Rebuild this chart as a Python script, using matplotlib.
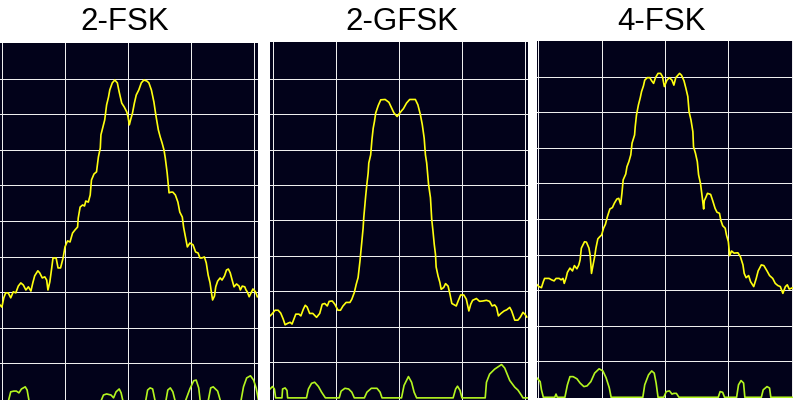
import matplotlib
matplotlib.use("Agg")
import matplotlib.pyplot as plt

# three spectrum analyser captures, x = offset in divisions, y = level in dB (10 dB/div)
titles = ["2-FSK", "2-GFSK", "4-FSK"]

fsk2_f = [-2.03, -2.00, -1.97, -1.94, -1.90, -1.86, -1.82, -1.78, -1.74, -1.70, -1.66, -1.62, -1.58, -1.54,
          -1.51, -1.48, -1.43, -1.40, -1.36, -1.32, -1.29, -1.27, -1.24, -1.21, -1.19, -1.14, -1.11, -1.07,
          -1.03, -1.00, -0.96, -0.92, -0.88, -0.84, -0.80, -0.79, -0.76, -0.72, -0.69, -0.67, -0.63, -0.60,
          -0.58, -0.54, -0.50, -0.47, -0.44, -0.43, -0.39, -0.37, -0.34, -0.31, -0.29, -0.25, -0.21, -0.17,
          -0.14, -0.10, -0.06, -0.02, 0.00, 0.02, 0.04, 0.07, 0.10, 0.13, 0.17, 0.21, 0.25, 0.30, 0.33, 0.37,
          0.41, 0.44, 0.48, 0.51, 0.54, 0.57, 0.59, 0.62, 0.65, 0.68, 0.71, 0.75, 0.79, 0.82, 0.86, 0.88,
          0.91, 0.94, 0.98, 1.03, 1.07, 1.11, 1.14, 1.17, 1.21, 1.24, 1.27, 1.30, 1.32, 1.34, 1.37, 1.39,
          1.42, 1.46, 1.49, 1.53, 1.56, 1.59, 1.62, 1.65, 1.68, 1.72, 1.76, 1.78, 1.81, 1.85, 1.87, 1.89,
          1.92, 1.95, 1.98, 2.02, 2.05]
fsk2_db = [-73.6, -74.2, -71.6, -70.2, -70.2, -71.6, -69.9, -70.2, -68.3, -67.4, -68.0, -69.4, -68.5, -69.7,
           -67.4, -65.4, -64.0, -64.6, -66.0, -65.7, -66.6, -69.4, -67.1, -63.2, -60.4, -60.4, -63.2, -63.2,
           -60.4, -57.3, -55.6, -55.9, -53.4, -52.5, -51.7, -49.2, -46.1, -45.5, -45.8, -44.4, -44.7, -42.7,
           -38.5, -36.8, -36.2, -32.0, -29.5, -25.8, -23.0, -21.6, -17.4, -15.2, -13.2, -11.2, -10.4, -11.2,
           -13.8, -16.9, -18.0, -19.4, -20.8, -23.0, -21.6, -19.7, -16.9, -14.6, -13.2, -11.2, -10.4, -10.7,
           -11.2, -13.2, -16.6, -20.2, -24.4, -26.4, -28.1, -30.1, -32.3, -36.5, -42.1, -41.9, -41.9, -42.7,
           -44.7, -47.5, -48.9, -51.7, -54.5, -57.3, -56.2, -56.7, -58.7, -59.0, -60.4, -60.4, -60.1, -61.8,
           -65.2, -67.4, -69.9, -72.2, -71.1, -68.5, -66.9, -66.0, -66.6, -65.4, -63.8, -63.5, -64.6, -66.6,
           -68.5, -67.7, -68.3, -69.4, -68.3, -68.5, -69.4, -69.9, -71.3, -70.2, -69.1, -69.9, -71.3]
fsk2_ref_f = [-1.91, -1.86, -1.81, -1.77, -1.73, -1.69, -1.63, -1.60, -1.56,
              -0.45, -0.39, -0.34, -0.27, -0.23, -0.19, -0.14, -0.11, -0.07,
              0.27, 0.31, 0.35, 0.39, 0.44,
              0.59, 0.63, 0.67, 0.71, 0.76,
              0.89, 0.98, 1.04, 1.08, 1.12, 1.15,
              1.26, 1.31, 1.35, 1.42, 1.48,
              1.78, 1.83, 1.88, 1.94, 1.99, 2.03, 2.08]
fsk2_ref_db = [-101.5, -98.0, -97.8, -97.8, -98.3, -97.2, -96.6, -97.5, -101.5,
               -101.5, -98.9, -98.6, -98.9, -99.7, -98.0, -97.2, -98.3, -101.5,
               -101.5, -97.5, -96.9, -97.2, -101.5,
               -101.5, -97.5, -96.9, -98.0, -101.5,
               -101.5, -97.2, -94.9, -94.7, -96.9, -101.5,
               -101.5, -96.9, -96.6, -97.8, -101.5,
               -101.5, -96.6, -94.1, -93.5, -94.7, -96.9, -101.5]

gfsk2_f = [-2.05, -2.02, -1.97, -1.92, -1.88, -1.84, -1.81, -1.77, -1.73, -1.70, -1.67, -1.64, -1.59, -1.56,
           -1.52, -1.49, -1.46, -1.42, -1.37, -1.31, -1.26, -1.22, -1.18, -1.14, -1.11, -1.06, -1.02, -0.97,
           -0.93, -0.89, -0.84, -0.78, -0.75, -0.71, -0.68, -0.65, -0.62, -0.60, -0.57, -0.56, -0.53, -0.51,
           -0.49, -0.48, -0.45, -0.43, -0.41, -0.39, -0.37, -0.33, -0.29, -0.22, -0.16, -0.12, -0.08, -0.03,
           0.00, 0.04, 0.07, 0.12, 0.17, 0.26, 0.30, 0.34, 0.37, 0.40, 0.42, 0.44, 0.47, 0.50, 0.52, 0.54,
           0.56, 0.58, 0.59, 0.62, 0.65, 0.67, 0.71, 0.74, 0.78, 0.81, 0.84, 0.91, 0.94, 0.98, 1.03, 1.07,
           1.11, 1.14, 1.17, 1.23, 1.28, 1.33, 1.39, 1.44, 1.48, 1.52, 1.55, 1.58, 1.62, 1.67, 1.71, 1.76,
           1.79, 1.84, 1.89, 1.93, 1.97, 2.00, 2.03]
gfsk2_db = [-76.9, -76.4, -75.3, -75.3, -76.1, -77.8, -79.4, -79.0, -78.7, -79.2, -77.8, -76.4, -76.4, -76.9,
            -75.0, -73.9, -74.4, -76.2, -76.2, -77.3, -76.2, -73.6, -73.4, -74.1, -72.8, -72.7, -73.6, -75.3,
            -75.3, -74.1, -73.1, -73.1, -72.2, -70.3, -68.0, -66.1, -61.4, -57.7, -52.1, -49.2, -43.2, -39.7,
            -36.6, -33.8, -31.5, -27.2, -24.0, -22.1, -19.7, -17.6, -16.0, -15.9, -16.7, -18.2, -19.7, -20.7,
            -20.0, -19.1, -18.5, -16.9, -15.9, -15.9, -17.4, -20.2, -23.0, -26.8, -31.5, -33.8, -39.9, -43.6,
            -49.7, -53.0, -56.7, -59.6, -63.1, -65.6, -67.5, -69.4, -68.9, -67.8, -68.5, -70.8, -73.4, -74.1,
            -72.7, -71.0, -71.0, -72.2, -75.5, -73.6, -72.5, -72.0, -72.8, -72.7, -72.5, -72.8, -74.1, -73.8,
            -74.5, -76.9, -76.2, -75.5, -75.2, -74.5, -75.5, -78.1, -78.1, -77.2, -75.9, -76.4, -77.2]
gfsk2_ref_f = [-2.05, -2.01, -1.98, -1.96,
               -1.86, -1.85, -1.81, -1.78, -1.77,
               -1.47, -1.44, -1.39, -1.34, -1.28, -1.23, -1.17,
               -0.95, -0.92, -0.86, -0.80, -0.75, -0.71,
               -0.55, -0.51, -0.44, -0.35, -0.30, -0.27,
               0.04, 0.08, 0.15, 0.20, 0.24, 0.28,
               0.86, 0.90, 0.93, 0.97, 1.00,
               1.37, 1.39, 1.44, 1.52, 1.63, 1.68, 1.76, 1.84, 1.89, 1.95, 1.97, 2.05]
gfsk2_ref_db = [-97.5, -96.8, -97.5, -100.0,
                -100.0, -97.5, -97.2, -97.9, -100.0,
                -100.0, -97.5, -95.9, -95.6, -96.8, -98.4, -100.0,
                -100.0, -98.1, -97.3, -97.5, -98.4, -100.0,
                -100.0, -98.4, -97.3, -97.3, -98.4, -100.0,
                -100.0, -96.5, -94.0, -95.6, -98.4, -100.0,
                -100.0, -97.5, -96.7, -97.9, -100.0,
                -100.0, -95.6, -93.3, -91.9, -90.6, -91.6, -95.1, -97.0, -97.8, -99.4, -100.0, -100.0]

fsk4_f = [-2.03, -1.99, -1.95, -1.92, -1.90, -1.83, -1.79, -1.75, -1.72, -1.67, -1.64, -1.61, -1.59, -1.56,
          -1.54, -1.50, -1.46, -1.43, -1.39, -1.36, -1.34, -1.32, -1.27, -1.24, -1.20, -1.18, -1.16, -1.13,
          -1.11, -1.09, -1.06, -1.03, -1.00, -0.97, -0.94, -0.91, -0.87, -0.83, -0.80, -0.76, -0.73, -0.70,
          -0.68, -0.66, -0.62, -0.60, -0.57, -0.54, -0.52, -0.48, -0.47, -0.45, -0.42, -0.39, -0.37, -0.34,
          -0.32, -0.28, -0.24, -0.21, -0.18, -0.15, -0.11, -0.07, -0.04, -0.01, 0.03, 0.07, 0.11, 0.14,
          0.17, 0.23, 0.26, 0.30, 0.33, 0.36, 0.38, 0.41, 0.44, 0.45, 0.48, 0.51, 0.53, 0.56, 0.58, 0.61,
          0.62, 0.65, 0.67, 0.72, 0.75, 0.79, 0.82, 0.86, 0.88, 0.91, 0.95, 0.97, 1.00, 1.02, 1.05, 1.09,
          1.15, 1.19, 1.23, 1.25, 1.28, 1.32, 1.35, 1.40, 1.44, 1.47, 1.52, 1.56, 1.61, 1.65, 1.70, 1.74,
          1.78, 1.82, 1.86, 1.90, 1.93, 1.96, 2.02]
fsk4_db = [-68.3, -69.0, -69.3, -67.6, -66.7, -66.7, -67.1, -67.4, -66.7, -66.7, -67.1, -66.7, -68.1, -66.5,
           -65.0, -63.8, -64.6, -63.1, -64.0, -62.9, -61.5, -58.2, -56.4, -56.5, -58.2, -60.3, -65.3, -62.4,
           -60.6, -58.2, -55.6, -55.0, -54.5, -52.6, -51.5, -49.4, -47.2, -46.8, -45.6, -44.4, -44.2, -45.9,
           -42.8, -39.0, -37.4, -35.3, -33.9, -32.0, -28.7, -26.4, -24.1, -20.8, -18.0, -15.9, -14.2, -12.6,
           -11.0, -10.3, -10.3, -11.2, -11.9, -10.3, -9.1, -9.1, -10.0, -12.8, -11.0, -10.3, -11.0, -12.4,
           -10.3, -9.1, -9.6, -11.2, -13.3, -15.6, -19.9, -22.2, -25.5, -29.7, -31.5, -33.9, -37.6, -40.0,
           -42.8, -47.2, -44.9, -43.7, -42.8, -43.1, -44.7, -47.0, -48.1, -48.4, -50.3, -51.9, -52.6, -54.5,
           -56.4, -60.3, -59.0, -59.6, -59.5, -60.6, -62.9, -65.3, -66.5, -65.9, -67.6, -69.0, -66.7, -64.6,
           -62.9, -63.1, -64.6, -65.9, -66.7, -68.1, -68.7, -69.0, -70.9, -69.0, -68.5, -69.7, -69.3]
fsk4_ref_f = [-2.02, -1.97, -1.95, -1.92,
              -1.74, -1.72, -1.70,
              -1.58, -1.54, -1.50, -1.45, -1.39, -1.34, -1.28, -1.23, -1.17, -1.11, -1.04, -0.98, -0.93,
              -0.88, -0.85,
              -0.35, -0.32, -0.26, -0.21, -0.17, -0.14, -0.11,
              -0.02, 0.02, 0.07, 0.11, 0.14, 0.18, 0.22,
              0.84, 0.87, 0.91, 0.94,
              1.13, 1.16, 1.20, 1.24, 1.26,
              1.52, 1.55, 1.61, 1.65, 1.67, 2.02]
fsk4_ref_db = [-94.7, -95.7, -98.0, -100.1,
               -100.1, -99.2, -100.1,
               -100.1, -96.6, -94.3, -94.3, -94.9, -96.1, -97.1, -96.9, -95.7, -93.3, -92.1, -92.7, -94.6,
               -97.4, -100.1,
               -100.1, -96.6, -93.8, -92.7, -93.3, -96.1, -100.1,
               -100.1, -98.5, -98.3, -99.2, -99.0, -99.0, -100.1,
               -100.1, -98.5, -98.7, -100.1,
               -100.1, -96.6, -95.4, -96.1, -100.1,
               -100.1, -98.0, -97.1, -97.5, -100.1, -100.1]

panels = [
    (fsk2_f, fsk2_db, fsk2_ref_f, fsk2_ref_db),
    (gfsk2_f, gfsk2_db, gfsk2_ref_f, gfsk2_ref_db),
    (fsk4_f, fsk4_db, fsk4_ref_f, fsk4_ref_db),
]

W, H = 793, 400
# panel boxes in pixels: left, right, top, bottom
boxes = [(0, 258, 43, 400), (270, 528, 42, 400), (537, 793, 41, 398)]
xlims = [(-2.03, 2.06), (-2.05, 2.05), (-2.02, 2.02)]
ylims = [(-100.3, 0.0), (-100.6, 0.3), (-100.3, 0.0)]
title_x = [125, 402, 662]

fig = plt.figure(figsize=(W / 100, H / 100), dpi=100)
fig.patch.set_facecolor("white")

for i in range(3):
    l, r, t, b = boxes[i]
    ax = fig.add_axes([l / W, 1 - b / H, (r - l) / W, (b - t) / H])
    ax.set_facecolor("#02021a")
    f, db, rf, rdb = panels[i]
    for gx in [-2, -1, 0, 1, 2]:
        ax.axvline(gx, color="#eeeeee", lw=0.72, zorder=1, antialiased=False)
    for gy in range(-90, 0, 10):
        ax.axhline(gy, color="#eeeeee", lw=0.72, zorder=1, antialiased=False)
    ax.plot(rf, rdb, color="#b4f520", lw=1.2, zorder=2)
    ax.plot(f, db, color="#ffff10", lw=1.2, zorder=3)
    ax.set_xlim(*xlims[i])
    ax.set_ylim(*ylims[i])
    ax.set_xticks([])
    ax.set_yticks([])
    for s in ax.spines.values():
        s.set_visible(False)
    fig.text(title_x[i] / W, 1 - 22 / H, titles[i], ha="center", va="center",
             fontsize=22.5, family="Liberation Sans", color="black")

fig.savefig("out.png", dpi=100, facecolor="white")
